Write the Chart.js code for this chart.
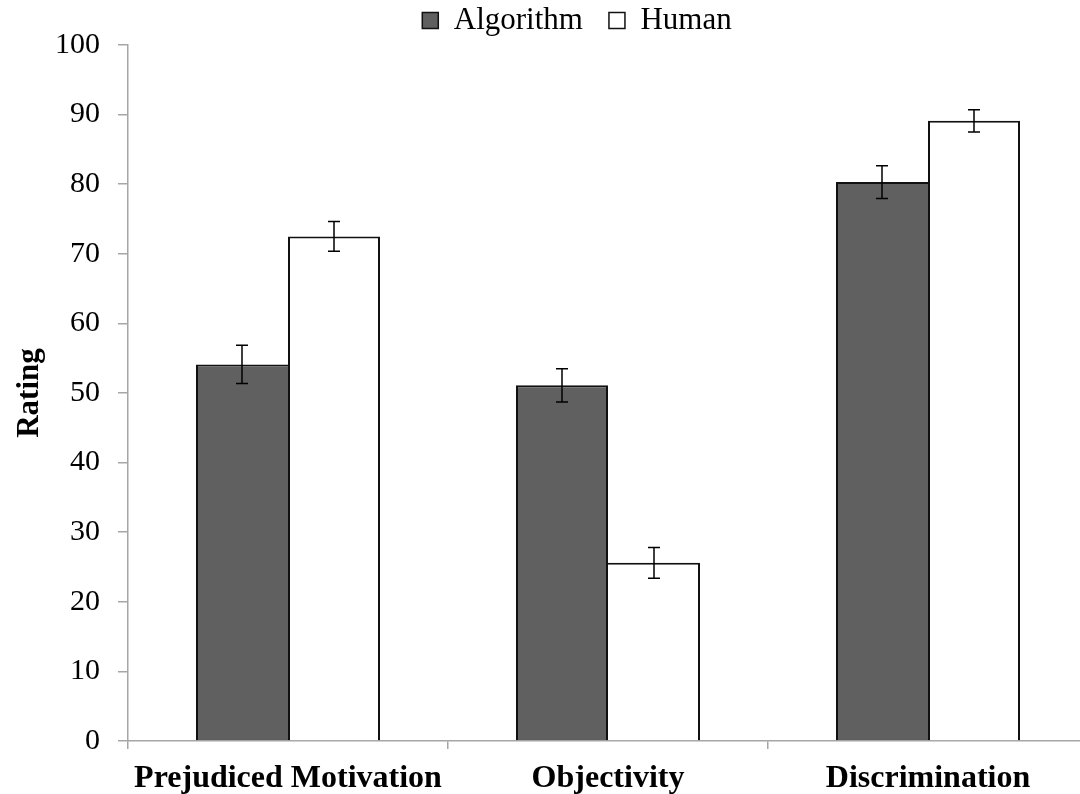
<!DOCTYPE html>
<html>
<head>
<meta charset="utf-8">
<script src="https://cdn.jsdelivr.net/npm/chart.js@4"></script>
<style>
  html, body { margin: 0; padding: 0; background: #fff; overflow: hidden; width: 1080px; height: 794px; }
  #wrap { width: 1088px; height: 794px; }
</style>
</head>
<body>
<div id="wrap"><canvas id="c" width="1088" height="794"></canvas></div>
<script>
const categories = ['Prejudiced Motivation', 'Objectivity', 'Discrimination'];
const seriesNames = ['Algorithm', 'Human'];
const algorithmValues = [54.1, 51.1, 80.3];
const humanValues = [72.5, 25.6, 89.1];
const algorithmErrors = [2.75, 2.4, 2.35];
const humanErrors = [2.15, 2.2, 1.6];
const yTicks = [0, 10, 20, 30, 40, 50, 60, 70, 80, 90, 100];

const errors = [algorithmErrors, humanErrors];
const FONT = "'Liberation Serif', 'Times New Roman', serif";

const errorBarPlugin = {
  id: 'errorBars',
  afterDatasetsDraw(chart) {
    const ctx = chart.ctx;
    const y = chart.scales.y;
    ctx.save();
    ctx.strokeStyle = '#000';
    ctx.lineWidth = 1.5;
    chart.data.datasets.forEach((ds, i) => {
      const meta = chart.getDatasetMeta(i);
      meta.data.forEach((bar, j) => {
        const v = ds.data[j], e = errors[i][j];
        const yt = y.getPixelForValue(v + e);
        const yb = y.getPixelForValue(v - e);
        const x = bar.x;
        ctx.beginPath();
        ctx.moveTo(x, yt); ctx.lineTo(x, yb);
        ctx.moveTo(x - 6, yt); ctx.lineTo(x + 6, yt);
        ctx.moveTo(x - 6, yb); ctx.lineTo(x + 6, yb);
        ctx.stroke();
      });
    });
    ctx.restore();
  }
};

// nudge the legend block to the reference position
const legendShift = {
  id: 'legendShift',
  afterLayout(chart) {
    const l = chart.legend;
    if (!l) return;
    l.left += 33;
    l.right += 33;
    l.top -= 21;
  }
};

new Chart(document.getElementById('c'), {
  type: 'bar',
  data: {
    labels: categories,
    datasets: [
      {
        label: seriesNames[0],
        data: algorithmValues,
        backgroundColor: '#606060',
        borderColor: '#111',
        borderWidth: (c) => ({ top: 2, left: 2, bottom: 0,
          right: algorithmValues[c.dataIndex] > humanValues[c.dataIndex] ? 2 : 0 }),
        borderSkipped: false,
        categoryPercentage: 0.575,
        barPercentage: 1.0
      },
      {
        label: seriesNames[1],
        data: humanValues,
        backgroundColor: '#ffffff',
        borderColor: '#111',
        borderWidth: (c) => ({ top: 2, right: 2, bottom: 0,
          left: humanValues[c.dataIndex] >= algorithmValues[c.dataIndex] ? 2 : 0 }),
        borderSkipped: false,
        categoryPercentage: 0.575,
        barPercentage: 1.0
      }
    ]
  },
  options: {
    responsive: false,
    animation: false,
    devicePixelRatio: 1,
    layout: { padding: 0 },
    plugins: {
      tooltip: { enabled: false },
      legend: {
        position: 'top',
        maxHeight: 45,
        labels: {
          font: { family: FONT, size: 31 },
          color: '#000',
          boxWidth: 16,
          boxHeight: 16,
          padding: 26,
          generateLabels(chart) {
            return chart.data.datasets.map((ds, i) => ({
              text: ds.label,
              fillStyle: ds.backgroundColor,
              strokeStyle: '#111',
              lineWidth: 1.5,
              datasetIndex: i,
              hidden: false
            }));
          }
        }
      }
    },
    scales: {
      x: {
        offset: true,
        grid: { display: true, offset: true, drawOnChartArea: false, drawTicks: true, tickLength: 8, color: '#a6a6a6', lineWidth: 1.5 },
        border: { display: true, color: '#a6a6a6', width: 1.5 },
        ticks: { font: { family: FONT, size: 32, weight: 'bold' }, color: '#000', padding: 11, maxRotation: 0, autoSkip: false },
        afterFit(scale) { scale.height = 53; }
      },
      y: {
        min: 0,
        max: 100,
        afterBuildTicks(scale) { scale.ticks = yTicks.map(v => ({ value: v })); },
        grid: { display: true, drawOnChartArea: false, drawTicks: true, tickLength: 10, color: '#a6a6a6', lineWidth: 1.5 },
        border: { display: true, color: '#a6a6a6', width: 1.5 },
        ticks: { font: { family: FONT, size: 30 }, color: '#000', padding: 18 },
        title: { display: true, text: 'Rating', font: { family: FONT, size: 31, weight: 'bold' }, color: '#000', padding: { top: 11, bottom: 0 } },
        afterFit(scale) { scale.width = 128; }
      }
    }
  },
  plugins: [errorBarPlugin, legendShift]
});
</script>
</body>
</html>
